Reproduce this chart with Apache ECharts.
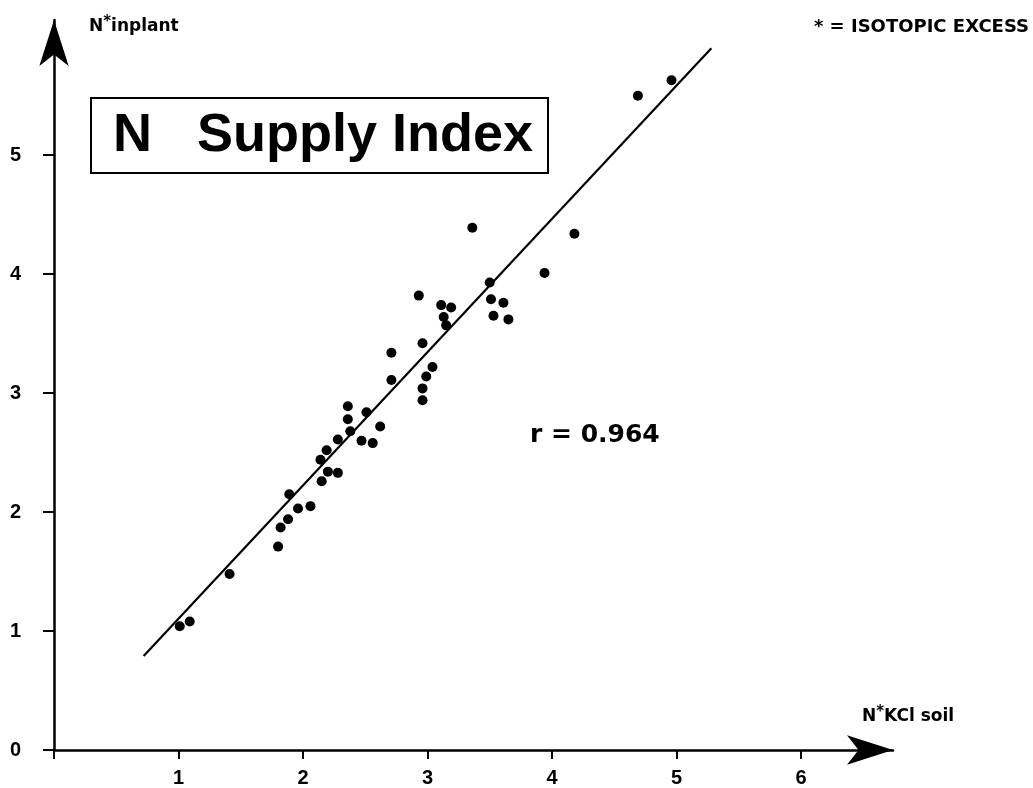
<!DOCTYPE html>
<html>
<head>
<meta charset="utf-8">
<script src="https://cdn.jsdelivr.net/npm/echarts@6/dist/echarts.min.js"></script>
<style>html,body{margin:0;padding:0;background:#fff;}#c{width:1033px;height:788px;}</style>
</head>
<body>
<div id="c"></div>
<script>
// Data
const xTickValues = [0, 1, 2, 3, 4, 5, 6];
const xLabelValues = [1, 2, 3, 4, 5, 6];
const yTickValues = [0, 1, 2, 3, 4, 5];
const soilKCl = [1.01,1.09,1.41,1.80,1.82,1.88,1.89,1.96,2.06,2.15,2.14,2.19,2.20,2.28,2.28,2.36,2.36,2.38,2.47,2.51,2.56,2.62,2.71,2.71,2.93,2.96,2.96,2.96,2.99,3.04,3.11,3.13,3.15,3.19,3.36,3.50,3.51,3.53,3.61,3.65,3.94,4.18,4.69,4.96];
const inPlant = [1.04,1.08,1.48,1.71,1.87,1.94,2.15,2.03,2.05,2.26,2.44,2.52,2.34,2.61,2.33,2.89,2.78,2.68,2.60,2.84,2.58,2.72,3.11,3.34,3.82,3.42,2.94,3.04,3.14,3.22,3.74,3.64,3.57,3.72,4.39,3.93,3.79,3.65,3.76,3.62,4.01,4.34,5.50,5.63];
const fitX = [0.72, 5.28];
const fitY = [0.79, 5.90];
const rText = 'r = 0.964';
const titleText = 'N   Supply Index';

const points = soilKCl.map((x, i) => [x, inPlant[i]]);
const fitLine = fitX.map((x, i) => [x, fitY[i]]);

const chart = echarts.init(document.getElementById('c'), null, {renderer: 'canvas'});
const axisFont = {fontFamily: 'Liberation Sans', fontWeight: 'bold', fontSize: 20, color: '#000'};
const smallRich = {
  b: {fontFamily: 'DejaVu Sans', fontWeight: 'bold', fontSize: 17, fill: '#000', verticalAlign: 'bottom'},
  s: {fontFamily: 'DejaVu Sans', fontWeight: 'bold', fontSize: 15, fill: '#000', verticalAlign: 'top', padding: [0,0,5,0]}
};
chart.setOption({
  animation: false,
  backgroundColor: '#fff',
  grid: {left: 54, right: 140, top: 20, bottom: 34, containLabel: false},
  xAxis: {
    type: 'value', min: 0, max: 6.739, interval: 1,
    axisLine: {show: true, onZero: false, symbol: ['none', 'arrow'], symbolSize: [22, 46], lineStyle: {color: '#000', width: 2.5}},
    axisTick: {show: true, length: 9, customValues: xTickValues, lineStyle: {color: '#000', width: 2}},
    axisLabel: {customValues: xLabelValues, margin: 18, ...axisFont},
    splitLine: {show: false}
  },
  yAxis: {
    type: 'value', min: 0, max: 6.137, interval: 1,
    axisLine: {show: true, onZero: false, symbol: ['none', 'arrow'], symbolSize: [22, 46], lineStyle: {color: '#000', width: 2.5}},
    axisTick: {show: true, length: 11, customValues: yTickValues, lineStyle: {color: '#000', width: 2}},
    axisLabel: {customValues: yTickValues, margin: 33, ...axisFont},
    splitLine: {show: false}
  },
  series: [
    {type: 'line', data: fitLine, showSymbol: false, symbol: 'none', lineStyle: {color: '#000', width: 2.2}, z: 2, silent: true},
    {type: 'scatter', data: points, symbol: 'circle', symbolSize: 10, itemStyle: {color: '#000', opacity: 1}, z: 3}
  ],
  graphic: [
    {type: 'rect', shape: {x: 91, y: 98, width: 457, height: 75}, style: {fill: null, stroke: '#000', lineWidth: 2}},
    {type: 'text', x: 113, y: 136, style: {text: titleText, font: 'bold 54px "Liberation Sans"', fill: '#000', verticalAlign: 'middle'}},
    {type: 'text', x: 89, y: 15, style: {text: '{b|N}{s|*}{b|inplant}', rich: smallRich, verticalAlign: 'top'}},
    {type: 'text', x: 862, y: 705, style: {text: '{b|N}{s|*}{b|KCl soil}', rich: smallRich, verticalAlign: 'top'}},
    {type: 'text', x: 1029, y: 27, style: {text: '* = ISOTOPIC EXCESS', font: 'bold 18px "DejaVu Sans"', fill: '#000', align: 'right', verticalAlign: 'middle'}},
    {type: 'text', x: 530, y: 435, style: {text: rText, font: 'bold 25px "DejaVu Sans"', fill: '#000', verticalAlign: 'middle'}}
  ]
});
</script>
</body>
</html>
